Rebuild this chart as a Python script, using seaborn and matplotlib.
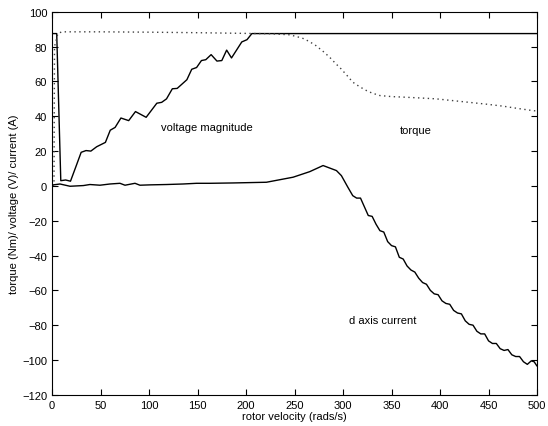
import numpy as np
import pandas as pd
import matplotlib
matplotlib.use("Agg")
import matplotlib.pyplot as plt
import seaborn as sns

# voltage magnitude (V)
volt_x = [0, 4.8, 9, 14, 19, 25, 30, 35, 40, 46, 55, 60, 65, 71, 79, 86, 97, 108, 113, 118,
          124, 129, 139, 144, 149, 154, 158.5, 164, 170, 175, 180, 185, 195.6, 201, 206, 500]
volt_y = [87.5, 87.5, 3, 3.4, 2.7, 11.7, 19.3, 20.3, 20, 22.5, 25, 32, 33.6, 39, 37.5, 42.7, 39.4, 47.5, 48, 50,
          55.8, 56, 61, 67, 68, 72, 72.5, 75.4, 71.7, 72, 78, 73.5, 82.7, 84, 87.5, 87.5]

# torque (Nm)
torque_x = [0, 2, 2.5, 6, 10, 50, 100, 150, 200, 225, 245, 258, 265, 272, 280, 286, 292, 298, 304,
            310, 317, 324, 330, 338, 350, 362, 380, 396, 413, 430, 447, 465, 480, 495, 500]
torque_y = [0, 2, 80, 87.5, 88.5, 88.5, 88.3, 88, 87.6, 87.4, 86.8, 84.9, 83, 80.6, 77, 74, 70.5, 67.2, 63.5,
            59.6, 57, 54.8, 53.3, 51.9, 51.3, 51, 50.5, 50, 49, 48, 47, 45.8, 44.5, 43.3, 43]

# d axis current (A)
id_x = [0, 1.4, 8.2, 18.5, 32.3, 39, 49.4, 59.7, 70, 75.2, 85.5, 90.6, 101, 118, 135, 149, 162.7,
        186.7, 221, 248.5, 265.7, 279.4, 293.2, 298.3, 305,
        310, 314, 318, 322, 326, 330, 334, 338, 342, 346, 350, 354, 358, 362, 366, 370, 374, 378,
        382, 386, 390, 394, 398, 402, 406, 410, 414, 418, 422, 426, 430, 434, 438, 442, 446, 450,
        454, 458, 462, 466, 470, 474, 478, 482, 486, 490, 494, 497, 500]
id_y = [0, 0.6, 1.1, -0.2, 0.2, 0.8, 0.4, 1.1, 1.5, 0.4, 1.5, 0.4, 0.6, 0.8, 1.1, 1.5, 1.5,
        1.7, 2.1, 5, 8.2, 11.7, 8.8, 5.9, -0.8,
        -5.6, -7, -7, -12, -17, -17.5, -22, -25.7, -26.5, -32, -34.3, -35, -41, -42, -46, -48.3, -49.5, -53,
        -55.5, -56.5, -60, -62, -62.5, -66, -67.5, -68, -71.5, -73, -73.5, -77.5, -79.5, -80, -83.5, -85, -85, -89,
        -90.5, -90.5, -93.5, -94.5, -94, -97, -98, -98, -101, -102.5, -100.5, -101, -103.5]

sns.set_style("ticks")
plt.rcParams['font.family'] = ['Liberation Sans', 'DejaVu Sans']
plt.rcParams['text.color'] = 'black'
plt.rcParams['axes.labelcolor'] = 'black'

fig = plt.figure(figsize=(5.48, 4.27), dpi=100)
ax = fig.add_axes([0.095, 0.073, 0.885, 0.897])

sns.lineplot(x=volt_x, y=volt_y, ax=ax, color='k', lw=1.0, estimator=None, sort=False)
sns.lineplot(x=torque_x, y=torque_y, ax=ax, color='0.25', lw=1.0, ls=(0, (1, 2.5)), estimator=None, sort=False)
sns.lineplot(x=id_x, y=id_y, ax=ax, color='k', lw=1.0, estimator=None, sort=False)

ax.text(160, 34, 'voltage magnitude', fontsize=8, ha='center', va='center')
ax.text(375, 32, 'torque', fontsize=8, ha='center', va='center')
ax.text(341, -77, 'd axis current', fontsize=8, ha='center', va='center')

ax.set_xlim(0, 500)
ax.set_ylim(-120, 100)
ax.set_xticks(range(0, 501, 50))
ax.set_yticks(range(-120, 101, 20))
ax.set_yticklabels([str(v).replace('-', '\u2212') for v in range(-120, 101, 20)])
ax.tick_params(direction='in', top=True, right=True, labelsize=8, length=4, width=0.8,
               colors='black')
for s in ax.spines.values():
    s.set_linewidth(0.8)
    s.set_color('black')
ax.set_xlabel('rotor velocity (rads/s)', fontsize=8, labelpad=1)
ax.set_ylabel('torque (Nm)/ voltage (V)/ current (A)', fontsize=8, labelpad=2)

plt.savefig('out.png', dpi=100)
